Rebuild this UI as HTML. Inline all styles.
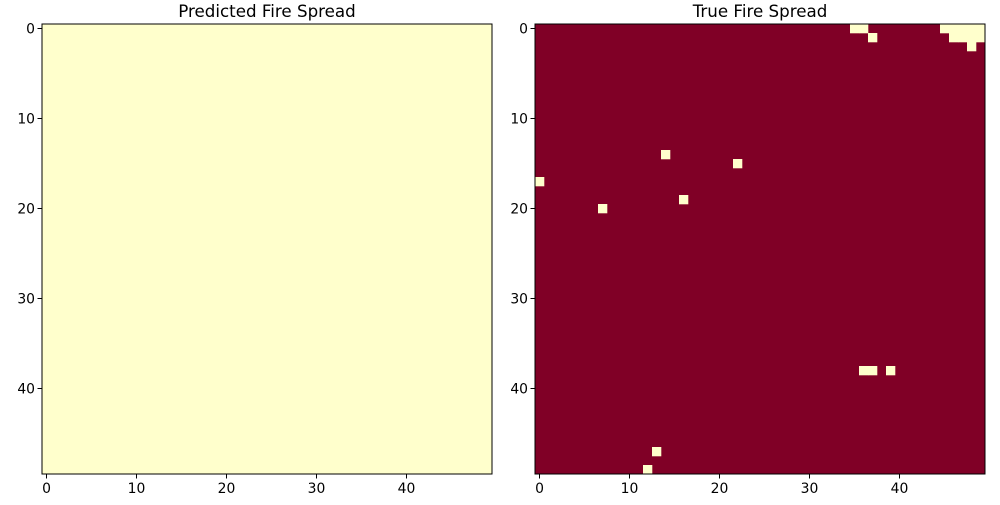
<!DOCTYPE html>
<html><head><meta charset="utf-8"><style>
body{margin:0;background:#fff;font-family:"Liberation Sans","DejaVu Sans",sans-serif}
svg text{font-family:"DejaVu Sans","Liberation Sans",sans-serif}
</style></head><body>
<svg id="c" width="1000" height="500" xmlns="http://www.w3.org/2000/svg"></svg>
<script>
const gridSize = 50;
const tickValues = [0, 10, 20, 30, 40];
const panelTitles = ["Predicted Fire Spread", "True Fire Spread"];
const predictedBurning = []; // all cells unburned
const trueUnburned = [[0,35],[0,36],[0,45],[0,46],[0,47],[0,48],[0,49],[1,37],[1,46],[1,47],[1,48],[1,49],[2,48],[14,14],[15,22],[17,0],[19,16],[20,7],[38,36],[38,37],[38,39],[47,13],[49,12]];
const panelsX = [42, 535];
const plotTop = 24, plotSize = 450;
const NS = "http://www.w3.org/2000/svg";
const svgRoot = document.getElementById('c');
function mk(t, a, p) { const e = document.createElementNS(NS, t); for (const k in a) e.setAttribute(k, a[k]); (p || svgRoot).appendChild(e); return e; }
function panel(i, bg, fg, cells) {
  const x0 = panelsX[i];
  const cs = plotSize / gridSize;
  const sx = v => x0 + (v + 0.5) * cs;
  const sy = v => plotTop + (v + 0.5) * cs;
  const g = mk('g', {});
  
  
  const bgR = mk('rect', {x: x0, y: plotTop, width: plotSize, height: plotSize, fill: bg}, g);
  
  
  cells.forEach(([r, c]) => {
    const e = mk('rect', {x: sx(c) - cs / 2, y: sy(r) - cs / 2, width: cs + 0.3, height: cs + 0.3, fill: fg}, g);
    
    
  });
  const fr = mk('rect', {x: x0, y: plotTop, width: plotSize, height: plotSize, fill: 'none', stroke: '#000', 'stroke-width': 1}, g);
  
  
  tickValues.forEach(v => {
    mk('line', {x1: sx(v), x2: sx(v), y1: plotTop + plotSize, y2: plotTop + plotSize + 4.5, stroke: '#000'}, g);
    const tx = mk('text', {x: sx(v), y: plotTop + plotSize + 19, 'font-size': 13.9, 'text-anchor': 'middle'}, g);
    tx.textContent = v;
    
    
    mk('line', {x1: x0 - 4.5, x2: x0, y1: sy(v), y2: sy(v), stroke: '#000'}, g);
    const ty = mk('text', {x: x0 - 7, y: sy(v) + 5, 'font-size': 13.9, 'text-anchor': 'end'}, g);
    ty.textContent = v;
    
    
  });
  const t = mk('text', {x: x0 + plotSize / 2, y: plotTop - 7, 'font-size': 16.7, 'text-anchor': 'middle'}, g);
  t.textContent = panelTitles[i];
  
  
}
panel(0, '#ffffcc', '#800026', predictedBurning);
panel(1, '#800026', '#ffffcc', trueUnburned);
</script>
</body></html>
